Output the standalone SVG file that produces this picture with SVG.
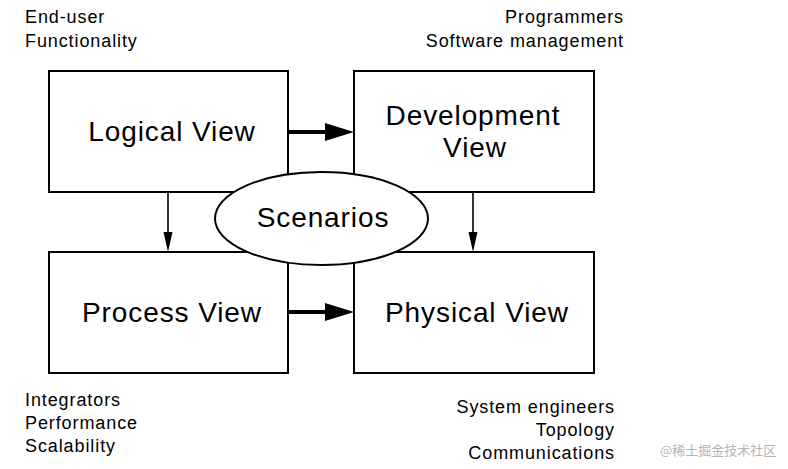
<svg xmlns="http://www.w3.org/2000/svg" width="788" height="469" viewBox="0 0 788 469">
<style>
.box{fill:#fff;stroke:#000;stroke-width:2}
.big{font-family:"Liberation Sans",Arial,sans-serif;font-size:28px;letter-spacing:0.9px;fill:#000;text-anchor:middle}
.lbl{font-family:"Liberation Sans",Arial,sans-serif;font-size:18px;letter-spacing:0.9px;fill:#000}
.end{text-anchor:end}
.thick{stroke:#000;stroke-width:4;fill:none}
.thin{stroke:#000;stroke-width:1.6;fill:none}
</style>
<rect width="788" height="469" fill="#fff"/>
<g id="connectors">
<line class="thick" x1="289" y1="132" x2="328" y2="132"/>
<polygon points="325,123 354,132 325,141" fill="#000"/>
<line class="thick" x1="289" y1="312" x2="328" y2="312"/>
<polygon points="325,303 354,312 325,321" fill="#000"/>
<line class="thin" x1="168" y1="193" x2="168" y2="234"/>
<polygon points="163.5,232 172.5,232 168,252" fill="#000"/>
<line class="thin" x1="473" y1="193" x2="473" y2="234"/>
<polygon points="468.5,232 477.5,232 473,252" fill="#000"/>
</g>
<g id="logical">
<rect class="box" x="49" y="71" width="239" height="121"/>
<text class="big" x="172" y="141">Logical View</text>
</g>
<g id="development">
<rect class="box" x="354" y="71" width="240" height="121"/>
<text class="big" x="473" y="125">Development</text>
<text class="big" x="475" y="157">View</text>
</g>
<g id="process">
<rect class="box" x="49" y="252" width="239" height="121"/>
<text class="big" x="172" y="322">Process View</text>
</g>
<g id="physical">
<rect class="box" x="354" y="252" width="240" height="121"/>
<text class="big" x="477" y="322">Physical View</text>
</g>
<g id="scenarios">
<ellipse cx="321.5" cy="218.5" rx="106.5" ry="46.5" fill="#fff" stroke="#000" stroke-width="2"/>
<text class="big" x="323" y="227">Scenarios</text>
</g>
<g id="labels">
<text class="lbl" x="25" y="23">End-user</text>
<text class="lbl" x="25" y="47">Functionality</text>
<text class="lbl end" x="624" y="23">Programmers</text>
<text class="lbl end" x="624" y="47">Software management</text>
<text class="lbl" x="25" y="406">Integrators</text>
<text class="lbl" x="25" y="429">Performance</text>
<text class="lbl" x="25" y="452">Scalability</text>
<text class="lbl end" x="615" y="413">System engineers</text>
<text class="lbl end" x="615" y="436">Topology</text>
<text class="lbl end" x="615" y="459">Communications</text>
</g>
<text x="660" y="455" font-family="'Noto Sans CJK SC',sans-serif" font-size="13" fill="#b4b4b4">@稀土掘金技术社区</text>
</svg>
